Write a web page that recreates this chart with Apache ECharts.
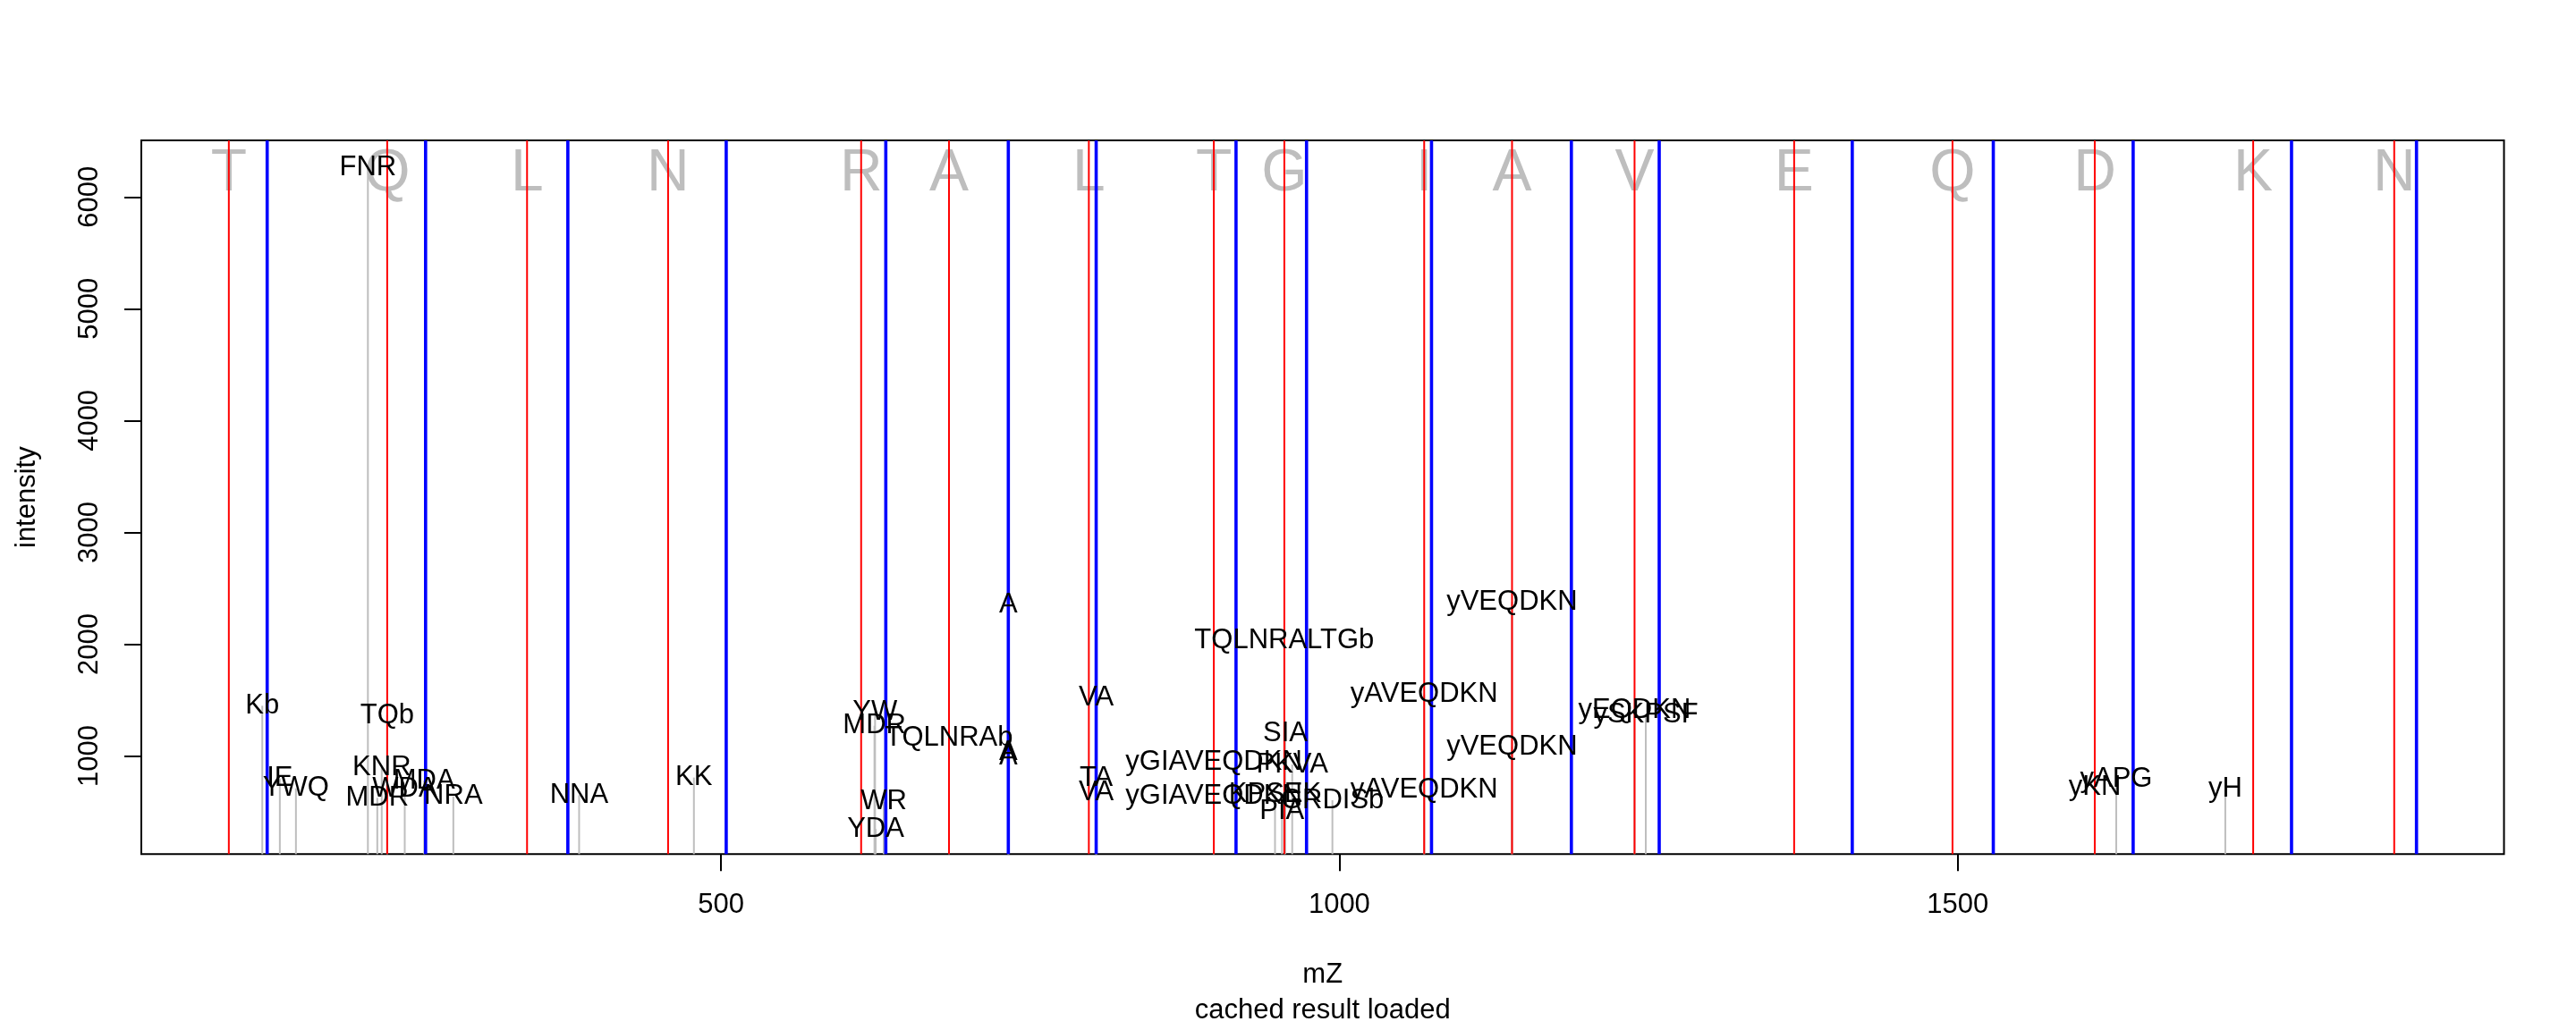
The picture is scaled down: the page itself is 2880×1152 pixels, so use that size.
<!DOCTYPE html>
<html>
<head>
<meta charset="utf-8">
<script src="https://cdn.jsdelivr.net/npm/echarts@6/dist/echarts.min.js"></script>
<style>
html,body{margin:0;padding:0;background:#ffffff;}
#chart{width:2880px;height:1152px;}
</style>
</head>
<body>
<div id="chart"></div>
<script>
// ---- data ----
const sequence = ["T","Q","L","N","R","A","L","T","G","I","A","V","E","Q","D","K","N"];
const bIons = [102.055, 230.114, 343.198, 457.241, 613.342, 684.379, 797.463, 898.510, 955.532, 1068.616, 1139.653, 1238.722, 1367.764, 1495.823, 1610.850, 1738.945, 1852.988];
const yIons = [133.061, 261.156, 376.183, 504.241, 633.284, 732.352, 803.389, 916.473, 973.495, 1074.543, 1187.627, 1258.664, 1414.765, 1528.808, 1641.892, 1769.950, 1870.998];
const peakMz = [129.1, 143.3, 156.3, 214.5, 222.1, 225.7, 230.1, 244.3, 260.0, 283.6, 385.3, 478.1,
                624.6, 624.1, 631.6, 625.1, 684.4, 732.4, 732.4, 732.4, 803.4, 803.4, 803.4,
                898.5, 898.5, 955.5, 956.3, 961.9, 948.0, 994.4, 953.6,
                1068.6, 1068.6, 1139.6, 1139.6, 1238.7, 1247.8, 1610.9, 1628.2, 1716.4];
const peakIntensity = [1449, 798, 710, 6263, 626, 898, 1364, 703, 780, 638, 650, 807,
                1396, 1270, 590, 346, 1164, 2350, 1035, 990, 1524, 804, 676,
                944, 644, 2030, 1198, 924, 658, 604, 506,
                1550, 698, 2377, 1084, 1407, 1372, 720, 795, 703];
const peakLabels = ["Kb", "IE", "YWQ", "FNR", "MDR", "KNR", "TQb", "WDA", "MDA", "NRA", "NNA", "KK",
                "YW", "MDR", "WR", "YDA", "TQLNRAb", "A", "A", "A", "VA", "TA", "VA",
                "yGIAVEQDKN", "yGIAVEQDKN", "TQLNRALTGb", "SIA", "PKVA", "KPSEK", "GRDISb", "PIA",
                "yAVEQDKN", "yAVEQDKN", "yVEQDKN", "yVEQDKN", "yEQDKN", "ySKPSF", "yKN", "yAPG", "yH"];
const xTicks = [500, 1000, 1500];
const yTicks = [1000, 2000, 3000, 4000, 5000, 6000];

// ---- layout / style ----
const FONT = "'Liberation Sans', Arial, Helvetica, sans-serif";
const X_MIN = 31.297, X_MAX = 1941.756;
const Y_MIN = 122, Y_MAX = 6506;
const LETTER_Y = 6207;

function vline(color, width) {
  return function (params, api) {
    const x = api.value(0);
    const p1 = api.coord([x, Y_MIN]);
    const p2 = api.coord([x, Y_MAX]);
    return { type: 'line', shape: { x1: p1[0], y1: p1[1], x2: p2[0], y2: p2[1] },
             style: { stroke: color, lineWidth: width } };
  };
}
const plain = v => String(v);

const chart = echarts.init(document.getElementById('chart'), null, { renderer: 'canvas' });
chart.setOption({
  animation: false,
  backgroundColor: '#ffffff',
  grid: { left: 158, right: 80.5, top: 157, bottom: 196.7, show: true, borderColor: '#000', borderWidth: 2, backgroundColor: 'transparent' },
  xAxis: {
    type: 'value', min: X_MIN, max: X_MAX,
    name: 'mZ', nameLocation: 'middle', nameGap: 120,
    nameTextStyle: { fontSize: 31, fontFamily: FONT, color: '#000' },
    axisLine: { show: false },
    splitLine: { show: false },
    axisTick: { show: true, inside: false, length: 19, customValues: xTicks, lineStyle: { color: '#000', width: 2 } },
    axisLabel: { show: true, customValues: xTicks, formatter: plain, margin: 42, fontSize: 31, fontFamily: FONT, color: '#000' }
  },
  yAxis: {
    type: 'value', min: Y_MIN, max: Y_MAX,
    name: 'intensity', nameLocation: 'middle', nameGap: 112, nameRotate: 90,
    nameTextStyle: { fontSize: 31, fontFamily: FONT, color: '#000' },
    axisLine: { show: false },
    splitLine: { show: false },
    axisTick: { show: true, inside: false, length: 19, customValues: yTicks, lineStyle: { color: '#000', width: 2 } },
    axisLabel: { show: true, customValues: yTicks, formatter: plain, rotate: 90, margin: 42, fontSize: 31, fontFamily: FONT, color: '#000' }
  },
  graphic: [{
    type: 'text', x: 1478.75, y: 1130, z: 10,
    style: { text: 'cached result loaded', fontSize: 31, fontFamily: FONT, fill: '#000', align: 'center', verticalAlign: 'middle' }
  }],
  series: [
    { // sequence letters
      type: 'custom', z: 1, silent: true,
      data: bIons.map(v => [v, LETTER_Y]),
      renderItem: function (params, api) {
        const p = api.coord([api.value(0), api.value(1)]);
        return { type: 'text', x: p[0], y: p[1],
                 style: { text: sequence[params.dataIndex], fontSize: 66, fontFamily: FONT, fill: '#BEBEBE', align: 'center', verticalAlign: 'middle' } };
      }
    },
    { // peaks
      type: 'custom', z: 2, silent: true,
      data: peakMz.map((m, i) => [m, peakIntensity[i]]),
      renderItem: function (params, api) {
        const p1 = api.coord([api.value(0), Y_MIN]);
        const p2 = api.coord([api.value(0), api.value(1)]);
        return { type: 'line', shape: { x1: p1[0], y1: p1[1], x2: p2[0], y2: p2[1] },
                 style: { stroke: '#BEBEBE', lineWidth: 2 } };
      }
    },
    { type: 'custom', z: 3, silent: true, data: bIons.map(v => [v, Y_MIN]), renderItem: vline('#FF0000', 2) },
    { type: 'custom', z: 4, silent: true, data: yIons.map(v => [v, Y_MIN]), renderItem: vline('#0000FF', 3.6) },
    { // peak labels
      type: 'custom', z: 5, silent: true,
      data: peakMz.map((m, i) => [m, peakIntensity[i]]),
      renderItem: function (params, api) {
        const p = api.coord([api.value(0), api.value(1)]);
        return { type: 'text', x: p[0], y: p[1],
                 style: { text: peakLabels[params.dataIndex], fontSize: 31, fontFamily: FONT, fill: '#000', align: 'center', verticalAlign: 'middle' } };
      }
    }
  ]
});
</script>
</body>
</html>
